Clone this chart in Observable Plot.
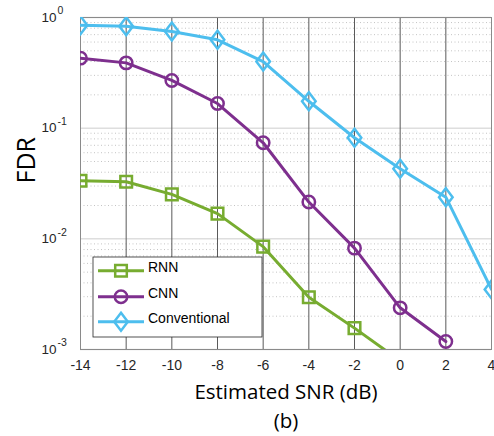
<!DOCTYPE html>
<html>
<head>
<meta charset="utf-8">
<script src="https://cdn.jsdelivr.net/npm/d3@7"></script>
<script src="https://cdn.jsdelivr.net/npm/@observablehq/plot@0.6"></script>
<style>
  html, body { margin: 0; padding: 0; background: #fff; }
</style>
</head>
<body>
<div id="chart"></div>
<script>
// ---- data ----
const snr = [-14, -12, -10, -8, -6, -4, -2, 0, 2, 4];
const xTicks = [-14, -12, -10, -8, -6, -4, -2, 0, 2, 4];
const yDecades = [1e-3, 1e-2, 1e-1, 1];
const yExponents = ["-3", "-2", "-1", "0"];
const rnn  = [0.0335, 0.0328, 0.0252, 0.0169, 0.0085, 0.00297, 0.00156, 0.00079, null, null];
const cnn  = [0.429, 0.389, 0.27, 0.167, 0.0738, 0.0215, 0.00824, 0.00238, 0.00118, null];
const conv = [0.852, 0.834, 0.748, 0.629, 0.40, 0.175, 0.0819, 0.043, 0.0238, 0.00349];
const seriesNames = ["RNN", "CNN", "Conventional"];
const seriesColors = ["#77AC30", "#7E2F8E", "#4DBEEE"];

// ---- custom marker shapes (MATLAB-like) ----
const squareSym = { draw(ctx) { const h = 5.8; ctx.moveTo(-h, -h); ctx.lineTo(h, -h); ctx.lineTo(h, h); ctx.lineTo(-h, h); ctx.closePath(); } };
const circleSym = { draw(ctx) { const r = 6.2; ctx.moveTo(r, 0); ctx.arc(0, 0, r, 0, 2 * Math.PI); ctx.closePath(); } };
const diamondSym = { draw(ctx) { const w = 6.8, h = 9; ctx.moveTo(0, -h); ctx.lineTo(w, 0); ctx.lineTo(0, h); ctx.lineTo(-w, 0); ctx.closePath(); } };
const symbols = [squareSym, circleSym, diamondSym];

const seriesValues = [rnn, cnn, conv];

const minor = [];
for (let k = -3; k < 0; k++) for (let m = 2; m <= 9; m++) minor.push(m * Math.pow(10, k));

const seriesMarks = seriesValues.flatMap((vals, s) => {
  const data = snr.map((x, i) => ({x, y: vals[i]})).filter(d => d.y != null);
  return [
    Plot.line(data, {x: "x", y: "y", stroke: seriesColors[s], strokeWidth: 3, clip: true}),
    Plot.dot(data, {x: "x", y: "y", stroke: seriesColors[s], strokeWidth: 2.5, fill: "none", symbol: symbols[s], clip: true})
  ];
});

const chart = Plot.plot({
  width: 494,
  height: 436,
  marginLeft: 80,
  marginRight: 3,
  marginTop: 17,
  marginBottom: 87,
  style: {fontFamily: "Liberation Sans, Arial, sans-serif", background: "white", color: "#262626"},
  x: {domain: [-14, 4], axis: null},
  y: {type: "log", domain: [1e-3, 1], axis: null},
  marks: [
    Plot.ruleY(minor, {stroke: "#c4c4c4", strokeWidth: 1, strokeDasharray: "1,2.5"}),
    Plot.ruleY(yDecades, {stroke: "#dedede", strokeWidth: 1.5}),
    Plot.ruleX(xTicks, {stroke: "#5a5a5a", strokeWidth: 1}),
    Plot.frame({stroke: "#8a8a8a", strokeWidth: 1}),
    ...seriesMarks,
    Plot.axisX(xTicks, {tickSize: 0, tickPadding: 10.5, fontSize: 14, tickFormat: d => String(d), label: null, fill: "#262626"}),
    Plot.text(yDecades, {y: d => d, frameAnchor: "left", dx: -24, textAnchor: "end", text: () => "10", fontSize: 13.5, fill: "#262626"}),
    Plot.text(yDecades, {y: d => d, frameAnchor: "left", dx: -23, dy: -6.5, textAnchor: "start", text: (d, i) => yExponents[i], fontSize: 10.5, fill: "#262626"}),
    Plot.text(["FDR"], {frameAnchor: "left", dx: -54, rotate: -90, text: d => d, fontSize: 25, fontFamily: "Open Sans", fill: "#000"}),
    Plot.text(["Estimated SNR (dB)"], {frameAnchor: "bottom", dy: 43, lineAnchor: "middle", text: d => d, fontSize: 20.5, fontFamily: "Open Sans", fill: "#000"}),
    Plot.text(["(b)"], {frameAnchor: "bottom", dy: 72, lineAnchor: "middle", text: d => d, fontSize: 20.5, fontFamily: "Open Sans", fill: "#000"})
  ]
});

// ---- legend ----
const svg = d3.select(chart);
const lg = svg.append("g").attr("text-anchor", "start");
lg.append("rect").attr("x", 93).attr("y", 257).attr("width", 169).attr("height", 80)
  .attr("fill", "white").attr("stroke", "#262626").attr("stroke-width", 0.8);
const ly = [270.7, 296.7, 321.7];
seriesNames.forEach((name, i) => {
  lg.append("line").attr("x1", 98).attr("x2", 144).attr("y1", ly[i]).attr("y2", ly[i])
    .attr("stroke", seriesColors[i]).attr("stroke-width", 3);
  lg.append("path").attr("d", d3.symbol().type(symbols[i])()).attr("transform", `translate(121,${ly[i]})`)
    .attr("fill", "none").attr("stroke", seriesColors[i]).attr("stroke-width", 2.5);
  lg.append("text").attr("x", 148).attr("y", ly[i] - 3.5).attr("dy", "0.35em")
    .attr("text-anchor", "start").attr("font-size", 14).attr("fill", "#000").text(name);
});

document.getElementById("chart").append(chart);
</script>
</body>
</html>
